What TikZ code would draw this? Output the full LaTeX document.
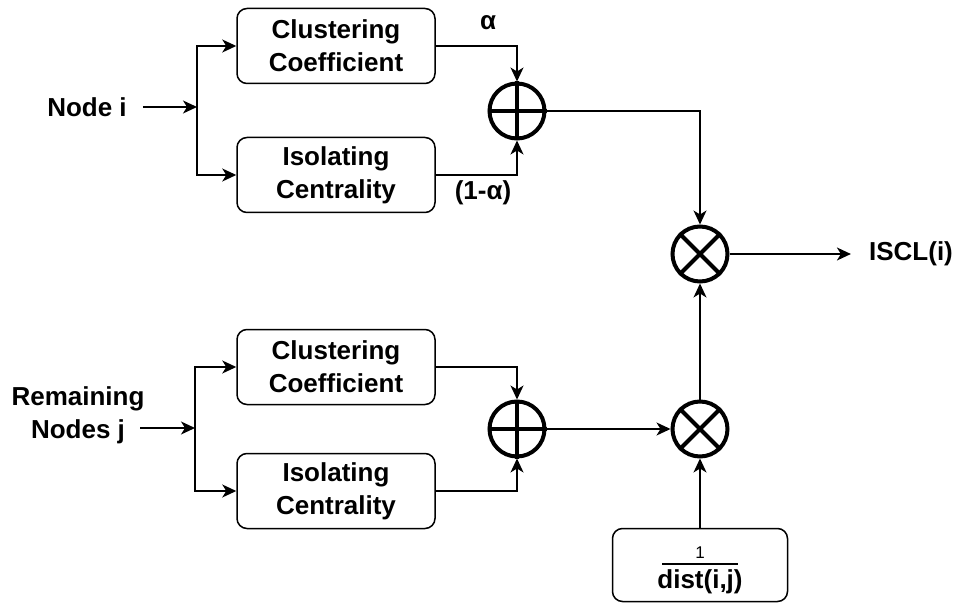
\documentclass[tikz,border=0pt]{standalone}
\usepackage{fontspec}
\setmainfont{Liberation Sans}
\usetikzlibrary{arrows.meta}
\begin{document}
\begin{tikzpicture}[x=1pt,y=-1pt,
  txt/.style={font=\fontsize{26}{33}\selectfont\bfseries, inner sep=0pt, align=center},
  blockbox/.style={txt, draw, line width=1.5pt, rounded corners=10pt,
    minimum width=198pt, minimum height=75pt},
  opnode/.style={circle, draw, line width=4pt, minimum size=55pt, inner sep=0pt},
  wire/.style={line width=1.5pt},
  conn/.style={wire, -{Stealth[length=14pt,width=13pt,inset=4pt]}}]

% canvas
\useasboundingbox (0,0) rectangle (956,604);

% ---------- upper branch: node i ----------
\node[txt] (ni) at (87,107) {Node i};
\coordinate (j1) at (197,107);
\node[blockbox] (cc1) at (336,46) {Clustering\\Coefficient};
\node[blockbox] (ic1) at (336,175) {Isolating\\Centrality};
\node[opnode] (s1) at (517,111) {};
\draw[line width=4pt] (s1.north) -- (s1.south) (s1.west) -- (s1.east);
\node[txt] (alpha) at (488,23) {α};
\node[txt] (malpha) at (483,193) {(1-α)};

\draw[conn] ([xshift=16pt]ni.east) -- (j1);
\draw[conn] (j1) |- (cc1.west);
\draw[conn] (j1) |- (ic1.west);
\draw[conn] (cc1.east) -| (s1.north);
\draw[conn] (ic1.east) -| (s1.south);

% ---------- product stage ----------
\node[opnode] (m1) at (700,254) {};
\draw[line width=4pt] (m1.45) -- (m1.225) (m1.135) -- (m1.315);
\node[txt] (iscl) at (911,254) {ISCL(i)};
\draw[conn] (s1.east) -| (m1.north);
\draw[conn, shorten >=18pt] (m1.east) -- (iscl.west);

% ---------- lower branch: remaining nodes j ----------
\node[txt] (nj) at (78,415) {Remaining\\Nodes j};
\coordinate (nja) at (140,428);
\coordinate (j2) at (195,428);
\node[blockbox] (cc2) at (336,367) {Clustering\\Coefficient};
\node[blockbox] (ic2) at (336,491) {Isolating\\Centrality};
\node[opnode] (s2) at (517,429) {};
\draw[line width=4pt] (s2.north) -- (s2.south) (s2.west) -- (s2.east);
\node[opnode] (m2) at (700,429) {};
\draw[line width=4pt] (m2.45) -- (m2.225) (m2.135) -- (m2.315);

\draw[conn] (nja) -- (j2);
\draw[conn] (j2) |- (cc2.west);
\draw[conn] (j2) |- (ic2.west);
\draw[conn] (cc2.east) -| (s2.north);
\draw[conn] (ic2.east) -| (s2.south);
\draw[conn] (s2.east) -- (m2.west);
\draw[conn] (m2.north) -- (m1.south);

% ---------- distance weight ----------
\node[draw, line width=1.5pt, rounded corners=10pt, minimum width=175pt,
  minimum height=73pt, inner sep=0pt] (db) at (700,565) {};
\node[inner sep=0pt, font=\fontsize{17}{17}\selectfont] (one) at (700,553) {1};
\node[txt] (dist) at (700,582) {dist(i,j)};
\draw[line width=2pt] (662,564) -- (738,564);
\draw[conn] (db.north) -- (m2.south);
\end{tikzpicture}
\end{document}
